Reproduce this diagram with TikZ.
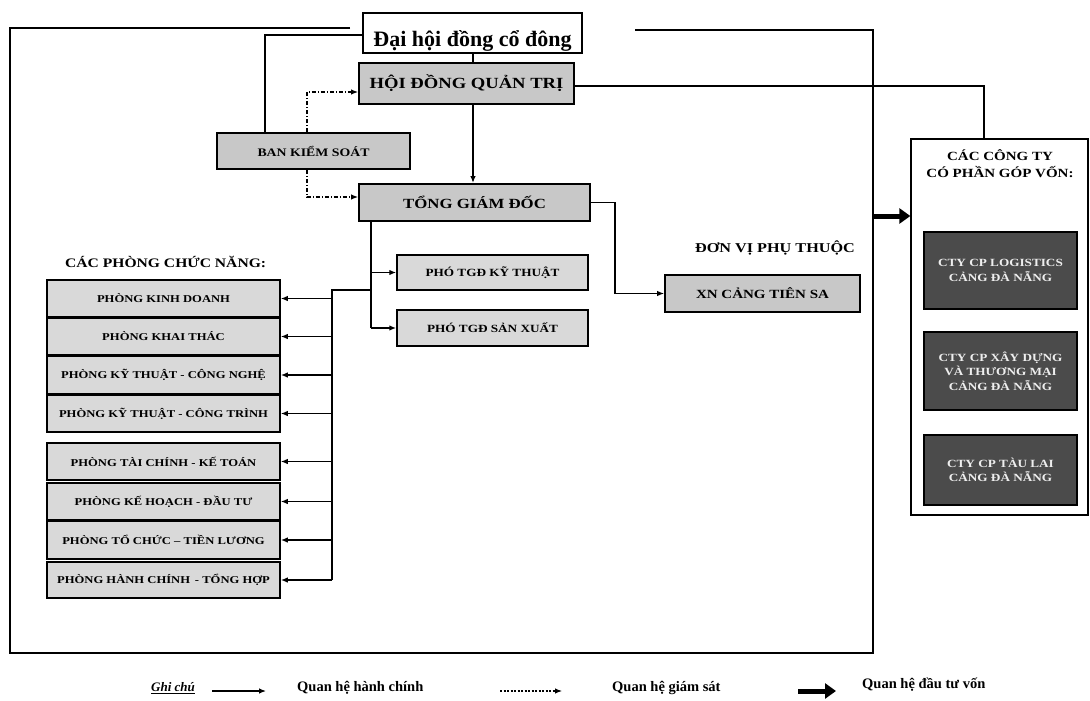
\documentclass[tikz,border=0pt]{standalone}
\usepackage{fontspec}
\setmainfont{Liberation Serif}
\newfontfamily\wf[FakeStretch=1.2]{Liberation Serif}
\usetikzlibrary{arrows.meta}
\definecolor{midgray}{HTML}{C8C8C8}
\definecolor{lgray}{HTML}{D9D9D9}
\definecolor{dgray}{HTML}{4B4B4B}
\definecolor{ltext}{HTML}{EEEEEE}
\begin{document}
\begin{tikzpicture}[x=1pt,y=-1pt,
  gbox/.style={draw=black, line width=1.6pt, fill=midgray, inner sep=0pt,
    font=\wf\bfseries\fontsize{14}{16}\selectfont},
  dept/.style={draw=black, line width=1.5pt, fill=lgray, inner sep=0pt,
    font=\wf\bfseries\fontsize{10.5}{12}\selectfont},
  dark/.style={draw=black, line width=1.5pt, fill=dgray, text=ltext, inner sep=0pt,
    minimum width=153pt, align=center, font=\wf\bfseries\fontsize{11}{14.5}\selectfont},
  lab/.style={inner sep=0pt, font=\wf\bfseries\fontsize{13}{15}\selectfont},
  leg/.style={inner sep=0pt, font=\bfseries\fontsize{14.5}{16}\selectfont},
  plain/.style={line width=1.4pt},
  adm/.style={line width=1.4pt, -{Latex[length=7pt,width=5.5pt]}},
  supv/.style={line width=1.1pt, dash pattern=on 4pt off 2pt on 1pt off 2pt, -{Latex[length=7pt,width=5.5pt]}},
  invest/.style={line width=5pt, -{Triangle[length=11pt,width=15pt]}}
]
\useasboundingbox (0,0) rectangle (1090,701);
\fill[white] (0,0) rectangle (1090,701);

% outer frame
\draw[line width=1.3pt] (350,28) -- (10,28) -- (10,653) -- (873,653) -- (873,30) -- (635,30);

% main nodes
\node[draw=black, line width=1.5pt, fill=white, inner sep=1pt, minimum width=219pt,
  text height=33pt, text depth=5pt, font=\bfseries\fontsize{22}{24}\selectfont]
  (dhd) at (472.5,33) {Đại hội đồng cổ đông};
\node[gbox, minimum width=215pt, minimum height=41pt, line width=1.9pt, font=\wf\bfseries\fontsize{15.5}{17}\selectfont] (hdqt) at (466.5,83.5) {HỘI ĐỒNG QUẢN TRỊ};
\node[gbox, minimum width=193pt, minimum height=36pt, font=\wf\bfseries\fontsize{11.5}{13}\selectfont] (bks) at (313.5,151) {BAN KIỂM SOÁT};
\node[gbox, minimum width=231pt, minimum height=37pt, line width=1.9pt] (tgd) at (474.5,202.5) {TỔNG GIÁM ĐỐC};
\node[dept, minimum width=191pt, minimum height=35pt, font=\wf\bfseries\fontsize{11}{13}\selectfont] (pho1) at (492.5,272.5) {PHÓ TGĐ KỸ THUẬT};
\node[dept, minimum width=191pt, minimum height=36pt, font=\wf\bfseries\fontsize{11}{13}\selectfont] (pho2) at (492.5,328) {PHÓ TGĐ SẢN XUẤT};
\node[lab, font=\wf\bfseries\fontsize{13.5}{15}\selectfont] (dvpt) at (775,248) {ĐƠN VỊ PHỤ THUỘC};
\node[gbox, minimum width=195pt, minimum height=37pt, font=\wf\bfseries\fontsize{12.5}{14}\selectfont] (xn) at (762.5,293.5) {XN CẢNG TIÊN SA};

% functional departments
\node[lab, anchor=west] (cpcn) at (65,262) {CÁC PHÒNG CHỨC NĂNG:};
\node[dept, minimum width=233pt, minimum height=37pt] (d1) at (163.5,298.5) {PHÒNG KINH DOANH};
\node[dept, minimum width=233pt, minimum height=37pt] (d2) at (163.5,336.5) {PHÒNG KHAI THÁC};
\node[dept, minimum width=233pt, minimum height=38pt] (d3) at (163.5,375) {PHÒNG KỸ THUẬT - CÔNG NGHỆ};
\node[dept, minimum width=233pt, minimum height=37pt] (d4) at (163.5,413.5) {PHÒNG KỸ THUẬT - CÔNG TRÌNH};
\node[dept, minimum width=233pt, minimum height=37pt] (d5) at (163.5,461.5) {PHÒNG TÀI CHÍNH - KẾ TOÁN};
\node[dept, minimum width=233pt, minimum height=37pt] (d6) at (163.5,501.5) {PHÒNG KẾ HOẠCH - ĐẦU TƯ};
\node[dept, minimum width=233pt, minimum height=38pt] (d7) at (163.5,540) {PHÒNG TỔ CHỨC – TIỀN LƯƠNG};
\node[dept, minimum width=233pt, minimum height=36pt] (d8) at (163.5,580) {PHÒNG HÀNH CHÍNH \,- TỔNG HỢP};

% affiliated companies
\node[draw=black, line width=1.3pt, fill=white, inner sep=0pt, minimum width=177pt, minimum height=376pt] (cty) at (999.5,327) {};
\node[lab, align=center, font=\wf\bfseries\fontsize{12.5}{17}\selectfont] (ctyt) at (1000,164) {CÁC CÔNG TY\\CÓ PHẦN GÓP VỐN:};
\node[dark, minimum height=77pt] (k1) at (1000.5,270.5) {CTY CP LOGISTICS\\CẢNG ĐÀ NẴNG};
\node[dark, minimum height=78pt] (k2) at (1000.5,371) {CTY CP XÂY DỰNG\\VÀ THƯƠNG MẠI\\CẢNG ĐÀ NẴNG};
\node[dark, minimum height=70pt] (k3) at (1000.5,470) {CTY CP TÀU LAI\\CẢNG ĐÀ NẴNG};

% helper coordinates
\coordinate (cA) at (473,0);
\coordinate (cB) at (265,35);
\coordinate (cC) at (307,0);
\coordinate (cD) at (0,92);
\coordinate (cE) at (0,197);
\coordinate (cF) at (0,86);
\coordinate (cG) at (984,0);
\coordinate (cI) at (615,250);
\coordinate (cJ) at (371,0);
\coordinate (cK) at (332,290);
\coordinate (cL) at (874,216);

% connectors
\draw[plain] (dhd.south -| cA) -- (hdqt.north -| cA);
\draw[adm] (hdqt.south -| cA) -- (tgd.north -| cA);
\draw[plain] (bks.north -| cB) |- (dhd.west |- cB);
\draw[supv] (bks.north -| cC) |- (hdqt.west |- cD);
\draw[supv] (bks.south -| cC) |- (tgd.west |- cE);
\draw[plain] (hdqt.east |- cF) -| (cty.north -| cG);
\draw[adm] (tgd.east) -| (cI) |- (xn.west);
\draw[plain] (tgd.south -| cJ) -- (cJ |- pho2.west);
\draw[adm] (cJ |- pho1.west) -- (pho1.west);
\draw[adm] (cJ |- pho2.west) -- (pho2.west);
\draw[plain] (cJ |- cK) -- (cK) -- (cK |- d8.east);
\foreach \d in {d1,d2,d3,d4,d5,d6,d7,d8}{
  \draw[adm] (cK |- \d.east) -- (\d.east);
}
\draw[invest] (cL) -- (cty.west |- cL);

% legend
\node[inner sep=0pt, font=\bfseries\itshape\fontsize{13}{15}\selectfont] (ghichu) at (173,688) {\underline{Ghi chú}};
\coordinate (la1) at (212,691);
\coordinate (la2) at (266,691);
\draw[adm, line width=1.2pt] (la1) -- (la2);
\node[leg, anchor=west] (lg1) at (297,688) {Quan hệ hành chính};
\coordinate (lb1) at (500,691);
\coordinate (lb2) at (562,691);
\draw[line width=1.1pt, dash pattern=on 2pt off 1.5pt, -{Latex[length=7pt,width=5.5pt]}] (lb1) -- (lb2);
\node[leg, anchor=west] (lg2) at (612,688) {Quan hệ giám sát};
\coordinate (lc1) at (798,691);
\coordinate (lc2) at (836,691);
\draw[invest] (lc1) -- (lc2);
\node[leg, anchor=west] (lg3) at (862,685) {Quan hệ đầu tư vốn};
\end{tikzpicture}
\end{document}
